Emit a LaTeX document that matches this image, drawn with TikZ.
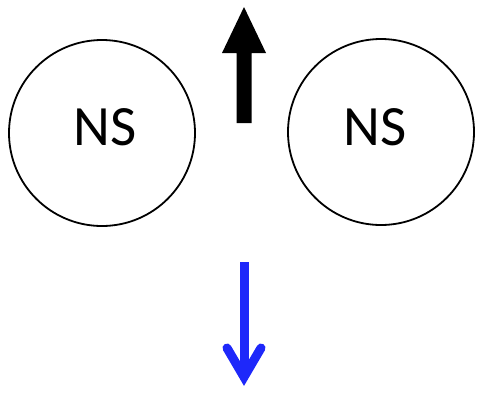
\documentclass[tikz,border=0pt]{standalone}
\usepackage{fontspec}
\setmainfont{Carlito}
\definecolor{fieldblue}{RGB}{30,40,250}
\begin{document}
\begin{tikzpicture}[x=1pt,y=-1pt,
  star/.style={circle,draw=black,line width=1.8pt,inner sep=0pt,minimum size=186pt},
  starlabel/.style={font=\fontsize{57}{60}\selectfont,inner sep=0pt},
  pull/.style={draw=fieldblue,line width=9pt}]
  \useasboundingbox (0,0) rectangle (487,397);
  % the two neutron stars
  \node[star] (ns1) at (102,133) {};
  \node[star] (ns2) at (381,132) {};
  \node[starlabel] (l1) at (105,127) {NS};
  \node[starlabel] (l2) at (375,127) {NS};
  % upward black arrow: shaft and triangular head
  \coordinate (uptip) at (244,7);
  \coordinate (upbase) at (244,123);
  \fill[black] (236.5,123) -- (236.5,53) -- (222,53) -- (uptip)
     -- (266,53) -- (251.5,53) -- (251.5,123) -- cycle;
  % downward blue arrow
  \coordinate (dntop) at (244,262);
  \coordinate (dnapex) at (244,377);
  \coordinate (wingl) at (227,348);
  \coordinate (wingr) at (261,348);
  \draw[pull] (dntop) -- (dnapex);
  \draw[pull,line cap=round,line join=miter] (wingl) -- (dnapex) -- (wingr);
\end{tikzpicture}
\end{document}
